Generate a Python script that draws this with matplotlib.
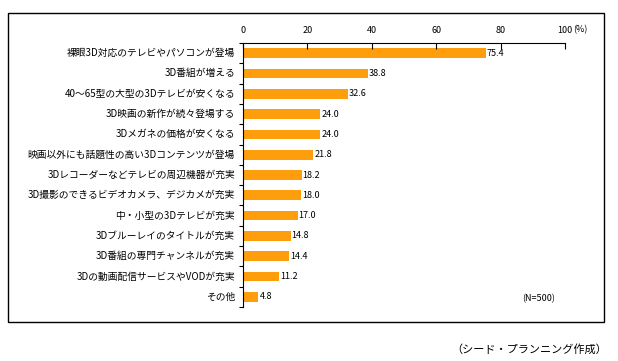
import matplotlib
matplotlib.use("Agg")
import matplotlib.pyplot as plt
from matplotlib.patches import Rectangle
from matplotlib.transforms import blended_transform_factory

plt.rcParams['font.family'] = ['Noto Sans CJK JP', 'DejaVu Sans']

# data
labels = [
    "裸眼3D対応のテレビやパソコンが登場",
    "3D番組が増える",
    "40～65型の大型の3Dテレビが安くなる",
    "3D映画の新作が続々登場する",
    "3Dメガネの価格が安くなる",
    "映画以外にも話題性の高い3Dコンテンツが登場",
    "3Dレコーダーなどテレビの周辺機器が充実",
    "3D撮影のできるビデオカメラ、デジカメが充実",
    "中・小型の3Dテレビが充実",
    "3Dブルーレイのタイトルが充実",
    "3D番組の専門チャンネルが充実",
    "3Dの動画配信サービスやVODが充実",
    "その他",
]
values = [75.4, 38.8, 32.6, 24.0, 24.0, 21.8, 18.2, 18.0, 17.0, 14.8, 14.4, 11.2, 4.8]
xticks = [0, 20, 40, 60, 80, 100]

W, H = 618, 361
fig = plt.figure(figsize=(W / 100, H / 100), dpi=100)

# outer frame
fig.patches.append(Rectangle((8 / W, 1 - 322 / H), (604 - 8) / W, (322 - 13) / H,
                             transform=fig.transFigure, fill=False,
                             edgecolor="black", linewidth=1.0))

ax = fig.add_axes([243 / W, 1 - 307 / H, (565 - 243) / W, (307 - 43) / H])
y = list(range(len(values)))
ax.barh(y, values, height=0.48, color="#FF9E0C", edgecolor="none")
ax.set_ylim(len(values) - 0.5, -0.5)
ax.set_xlim(0, 100)

for yi, v in zip(y, values):
    ax.text(v + 0.3, yi, f"{v:.1f}", va="center", ha="left", fontsize=6.5)

ax.xaxis.tick_top()
ax.set_xticks(xticks)
ax.set_xticklabels([str(t) for t in xticks], fontsize=6.5)
ax.tick_params(axis="x", direction="in", length=4, width=0.8, pad=6)
trans = blended_transform_factory(ax.transData, fig.transFigure)
ax.text(102.5, 1 - 30 / H, "(%)", transform=trans, fontsize=6.5,
        ha="left", va="center")
ax.set_yticks([i + 0.5 for i in range(-1, len(values))], minor=False)
ax.set_yticklabels([])
ax.tick_params(axis="y", direction="out", length=3, width=0.8)
for yi, lab in zip(y, labels):
    ax.text(-2.5, yi, lab, ha="right", va="center", fontsize=7)

for s in ["right", "bottom"]:
    ax.spines[s].set_visible(False)
for s in ["left", "top"]:
    ax.spines[s].set_linewidth(0.8)

ax.text(97, len(values) - 0.9, "(N=500)", ha="right", va="center", fontsize=6.5)
fig.text(607 / W, 1 - 349 / H, "（シード・プランニング作成）", ha="right",
         va="center", fontsize=8)

fig.savefig("out.png", dpi=100)
